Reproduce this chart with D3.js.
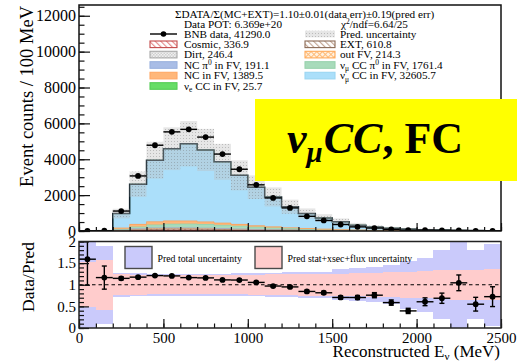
<!DOCTYPE html>
<html>
<head>
<meta charset="utf-8">
<script src="https://cdn.jsdelivr.net/npm/d3@7"></script>
<style>
  body { margin: 0; background: #fff; }
  svg { display: block; }
</style>
</head>
<body>
<svg id="chart" width="518" height="364"></svg>
<script>
// ---- binning: 100 MeV bins of reconstructed neutrino energy ----
const binLow = d3.range(0, 2500, 100);
const binWidth = 100;

// ---- predicted event counts per bin, by category ----
const cosmic    = [0.3,1,12,24,36,40,40,37,32,25.2,20,16,13,10,8,6,4.5,3.5,2.6,1.9,1.4,1,0.7,0.5,0.3];
const ext       = [0.5,2,22,44,62,68,68,63,55,48.1,38,32,26,20,16,12,9,7,5.5,4,3,2.2,1.6,1.1,0.8];
const dirt      = [0.2,0.8,12,24,32,32,30,25.7,20,16,13,10,8,6,4.5,3.5,2.6,1.9,1.4,1,0.7,0.5,0.3,0.2,0.1];
const outFV     = [0.2,1,15,27,30.1,28,25,21,17,13,10,7.5,5.5,4,3,2.2,1.6,1.1,0.8,0.5,0.3,0.2,0.1,0.1,0.1];
const ncPi0     = [0.1,0.5,10,20,25,25.3,22,19,16,13,10,8,6,4.5,3.5,2.5,1.8,1.3,0.9,0.6,0.4,0.3,0.2,0.1,0.1];
const numuCCpi0 = [0.3,1,30,95,160,195,210.7,200,180,155,130,105,82,62,46,34,24,17,12,8,5.5,3.8,2.5,1.6,1];
const ncFV      = [0.8,3,65,135,174,176,164,144,122.4,98,78,60,45,34,26,19,14,10,7,5,3.5,2.4,1.6,1.1,0.7];
const numuCC    = [2.0,7.0,803.0,2241.1,3425.5,4022.7,4304.0,4007.5,3412.0,2734.3,2141.0,1658.1,1167.3,826.9,613.3,433.7,267.7,174.8,127.3,87.2,58.9,38.6,24.3,16.9,10.6];
const nueCC     = [0,0,0.1,0.4,0.8,1.2,1.5,1.8,2,2.3,2.4,2,1.9,1.7,1.5,1.3,1.1,0.9,0.7,0.6,0.5,0.4,0.3,0.2,0.1];

// ---- observed BNB data counts per bin ----
const bnbData = [7,19,1112,3070,4782,5527,5667,5236,4289,3443,2574,1842,1287,819,588,363,230,165,93,43,45,34,33,12,10];

// ---- relative prediction uncertainties per bin ----
const relErrTotal      = [1.2,0.9,0.28,0.27,0.26,0.26,0.26,0.26,0.26,0.27,0.27,0.28,0.29,0.3,0.3,0.36,0.38,0.4,0.45,0.55,0.62,0.8,1.0,0.8,0.95];
const relErrStatXsFlux = [0.52,0.58,0.24,0.23,0.22,0.22,0.22,0.22,0.22,0.22,0.23,0.24,0.24,0.25,0.25,0.26,0.27,0.28,0.29,0.3,0.31,0.33,0.35,0.35,0.36];

// ---- axis ticks ----
const yTopMajor = d3.range(0, 12001, 2000);
const yTopMinor = d3.range(0, 12600, 500);
const xMajor = d3.range(0, 2501, 500);
const xMinor = d3.range(0, 2501, 100);
const yRatMajor = [0, 0.5, 1, 1.5, 2];
const yRatMinor = d3.range(0, 2.001, 0.1);

const SERIF = '"Liberation Serif", "Times New Roman", serif';

const svg = d3.select('#chart').attr('font-family', SERIF);
const defs = svg.append('defs');

// ---- fill patterns ----
function linePattern(id, color, angle, gap, sw, bg) {
  const p = defs.append('pattern').attr('id', id).attr('patternUnits', 'userSpaceOnUse')
    .attr('width', gap).attr('height', gap).attr('patternTransform', `rotate(${angle})`);
  if (bg) p.append('rect').attr('width', gap).attr('height', gap).attr('fill', bg);
  p.append('line').attr('x1', 0.5).attr('y1', 0).attr('x2', 0.5).attr('y2', gap)
    .attr('stroke', color).attr('stroke-width', sw);
}
function dotPattern(id, bg, dot, size) {
  const p = defs.append('pattern').attr('id', id).attr('patternUnits', 'userSpaceOnUse')
    .attr('width', size * 2).attr('height', size * 2);
  p.append('rect').attr('width', size * 2).attr('height', size * 2).attr('fill', bg);
  p.append('rect').attr('width', size).attr('height', size).attr('fill', dot);
  p.append('rect').attr('x', size).attr('y', size).attr('width', size).attr('height', size).attr('fill', dot);
}
linePattern('hatchCosmic', '#e58a8a', -45, 4, 1.3, '#fff');
linePattern('hatchExt', '#c2a593', -45, 4, 1.3, '#fff');
{
  const p = defs.append('pattern').attr('id', 'xhatchOut').attr('patternUnits', 'userSpaceOnUse')
    .attr('width', 4).attr('height', 4).attr('patternTransform', 'rotate(45)');
  p.append('rect').attr('width', 4).attr('height', 4).attr('fill', '#fff1e0');
  p.append('line').attr('x1', 0).attr('y1', 0.5).attr('x2', 4).attr('y2', 0.5).attr('stroke', '#ffbb77').attr('stroke-width', 1);
  p.append('line').attr('x1', 0.5).attr('y1', 0).attr('x2', 0.5).attr('y2', 4).attr('stroke', '#ffbb77').attr('stroke-width', 1);
}
dotPattern('dotsDirt', '#f0f0f0', '#cfcfcf', 1.5);
{
  // sparse dotted fill for the prediction uncertainty
  const p = defs.append('pattern').attr('id', 'dotsUnc').attr('patternUnits', 'userSpaceOnUse')
    .attr('width', 3).attr('height', 3);
  p.append('rect').attr('width', 3).attr('height', 3).attr('fill', 'rgba(190,190,190,0.38)');
  p.append('rect').attr('width', 1).attr('height', 1).attr('fill', 'rgba(105,105,105,0.35)');
}

// ---- scales ----
const x = d3.scaleLinear().domain([0, 2500]).range([79, 501]);
const yTop = d3.scaleLinear().domain([0, 12600]).range([231, 5]);
const yRat = d3.scaleLinear().domain([0, 2]).range([328, 241.5]);

// ---- stacked prediction ----
const layers = [
  { key: 'cosmic',    values: cosmic,    fill: 'url(#hatchCosmic)', stroke: '#d23c3c', sw: 1.3 },
  { key: 'ext',       values: ext,       fill: 'url(#hatchExt)',    stroke: '#8b5e45', sw: 0.8 },
  { key: 'dirt',      values: dirt,      fill: 'url(#dotsDirt)',    stroke: '#a0a0a0', sw: 0.6 },
  { key: 'outFV',     values: outFV,     fill: 'url(#xhatchOut)',   stroke: '#ffa54f', sw: 0.6 },
  { key: 'ncPi0',     values: ncPi0,     fill: '#a9bde6',           stroke: '#94aedc', sw: 0.6 },
  { key: 'numuCCpi0', values: numuCCpi0, fill: '#a8dbbb',           stroke: '#8fcfa8', sw: 0.6 },
  { key: 'ncFV',      values: ncFV,      fill: '#ffb77a',           stroke: '#f7a25e', sw: 0.8 },
  { key: 'numuCC',    values: numuCC,    fill: '#abdffa',           stroke: '#6fb6d8', sw: 0.6 },
  { key: 'nueCC',     values: nueCC,     fill: '#66dd66',           stroke: '#44bb44', sw: 0.6 }
];
const rows = binLow.map((b, i) => Object.fromEntries(layers.map(l => [l.key, l.values[i]])));
const series = d3.stack().keys(layers.map(l => l.key))(rows);
const pred = binLow.map((b, i) => d3.sum(layers, l => l.values[i]));

defs.append('clipPath').attr('id', 'clipTop').append('rect')
  .attr('x', x(0)).attr('y', yTop.range()[1]).attr('width', x(2500) - x(0)).attr('height', yTop.range()[0] - yTop.range()[1]);
defs.append('clipPath').attr('id', 'clipRat').append('rect')
  .attr('x', x(0)).attr('y', yRat(2)).attr('width', x(2500) - x(0)).attr('height', yRat(0) - yRat(2));

const gTop = svg.append('g').attr('clip-path', 'url(#clipTop)');
const step = d3.line().x(p => x(p[0])).y(p => yTop(p[1])).curve(d3.curveStepAfter);

series.forEach((s, li) => {
  gTop.append('g').attr('shape-rendering', 'crispEdges').selectAll('rect').data(s).join('rect')
    .attr('x', (d, i) => x(binLow[i]))
    .attr('width', (d, i) => x(binLow[i] + binWidth) - x(binLow[i]))
    .attr('y', d => yTop(d[1]))
    .attr('height', d => Math.max(0, yTop(d[0]) - yTop(d[1])))
    .attr('fill', layers[li].fill);
});
series.forEach((s, li) => {
  const pts = binLow.map((b, i) => [b, s[i][1]]).concat([[2500, s[s.length - 1][1]]]);
  gTop.append('path').attr('d', step(pts)).attr('fill', 'none')
    .attr('stroke', layers[li].stroke).attr('stroke-width', layers[li].sw);
});
// total prediction outline
gTop.append('path')
  .attr('d', step(binLow.map((b, i) => [b, pred[i]]).concat([[2500, pred[pred.length - 1]]])))
  .attr('fill', 'none').attr('stroke', '#10202a').attr('stroke-width', 1.5);

// prediction uncertainty band
gTop.append('g').selectAll('rect').data(binLow).join('rect')
  .attr('x', (b) => x(b))
  .attr('width', (b) => x(b + binWidth) - x(b))
  .attr('y', (b, i) => yTop(pred[i] * (1 + relErrTotal[i])))
  .attr('height', (b, i) => yTop(Math.max(0, pred[i] * (1 - relErrTotal[i]))) - yTop(pred[i] * (1 + relErrTotal[i])))
  .attr('fill', 'url(#dotsUnc)');

// data points
const gData = gTop.append('g').attr('stroke', '#000').attr('stroke-width', 1.4);
binLow.forEach((b, i) => {
  const cx = x(b + binWidth / 2), cy = yTop(bnbData[i]), e = Math.sqrt(bnbData[i]);
  gData.append('line').attr('x1', x(b)).attr('x2', x(b + binWidth)).attr('y1', cy).attr('y2', cy);
  gData.append('line').attr('x1', cx).attr('x2', cx).attr('y1', yTop(bnbData[i] + e)).attr('y2', yTop(bnbData[i] - e));
  gData.append('circle').attr('cx', cx).attr('cy', cy).attr('r', 2.9).attr('fill', '#000').attr('stroke', 'none');
});

// ---- axes helpers ----
function styleAxis(g, size) {
  g.select('.domain').remove();
  g.attr('font-family', SERIF).attr('font-size', size);
  g.selectAll('line').attr('stroke', '#111').attr('stroke-width', 1.2);
  g.selectAll('text').attr('fill', '#000');
}

// top panel axes
svg.append('g').attr('transform', `translate(${x(0)},0)`)
  .call(d3.axisLeft(yTop).tickValues(yTopMinor).tickSize(-5.5).tickFormat(''))
  .call(g => styleAxis(g, 16));
svg.append('g').attr('transform', `translate(${x(0)},0)`)
  .call(d3.axisLeft(yTop).tickValues(yTopMajor).tickSize(-11).tickPadding(3).tickFormat(d3.format('d')))
  .call(g => styleAxis(g, 16));
svg.append('g').attr('transform', `translate(0,${yTop(0)})`)
  .call(d3.axisBottom(x).tickValues(xMinor).tickSize(-4).tickFormat(''))
  .call(g => styleAxis(g, 15));
svg.append('g').attr('transform', `translate(0,${yTop(0)})`)
  .call(d3.axisBottom(x).tickValues(xMajor).tickSize(-8).tickFormat(''))
  .call(g => styleAxis(g, 15));
svg.append('rect').attr('x', x(0)).attr('y', yTop.range()[1])
  .attr('width', x(2500) - x(0)).attr('height', yTop(0) - yTop.range()[1])
  .attr('fill', 'none').attr('stroke', '#111').attr('stroke-width', 1.5);

svg.append('text').attr('transform', `translate(33,6) rotate(-90)`)
  .attr('text-anchor', 'end').attr('font-size', 18.5).text('Event counts / 100 MeV');

// ---- legend (top panel) ----
const gLeg = svg.append('g').attr('font-size', 11.2);
gLeg.append('text').attr('x', 175).attr('y', 18)
  .text('\u03A3DATA/\u03A3(MC+EXT)=1.10\u00B10.01(data err)\u00B10.19(pred err)');
gLeg.append('text').attr('x', 184).attr('y', 28).text('Data POT: 6.369e+20');
{
  const t = gLeg.append('text').attr('x', 341).attr('y', 28);
  t.append('tspan').text('\u03C7');
  t.append('tspan').attr('font-size', 7.5).attr('dy', -4).text('2');
  t.append('tspan').attr('dy', 4).text('/ndf=6.64/25');
}
const legendLeft = [
  { y: 34,   kind: 'data', parts: [['BNB data, 41290.0']] },
  { y: 44.3, fill: 'url(#hatchCosmic)', stroke: '#c44a4a', parts: [['Cosmic, 336.9']] },
  { y: 54.6, fill: 'url(#dotsDirt)', stroke: '#a8a8a8', parts: [['Dirt, 246.4']] },
  { y: 65,   fill: '#a9bde6', stroke: '#9bb2de', parts: [['NC \u03C0'], ['0', 'sup'], [' in FV,  191.1']] },
  { y: 75.6, fill: '#ffb77a', stroke: '#ffa866', parts: [['NC in FV, 1389.5']] },
  { y: 86,   fill: '#66dd66', stroke: '#55cc55', parts: [['\u03BD'], ['e', 'sub'], [' CC in FV, 25.7']] }
];
const legendRight = [
  { y: 34,   fill: 'url(#dotsUnc)', stroke: 'none', parts: [['Pred. uncertainty']] },
  { y: 44.3, fill: 'url(#hatchExt)', stroke: '#8b6a55', parts: [['EXT, 610.8']] },
  { y: 54.6, fill: 'url(#xhatchOut)', stroke: '#ffaa5a', parts: [['out FV, 214.3']] },
  { y: 65,   fill: '#a8dbbb', stroke: '#99d2ae', parts: [['\u03BD'], ['\u03BC', 'sub'], [' CC \u03C0'], ['0', 'sup'], [' in FV, 1761.4']] },
  { y: 75.6, fill: '#abdffa', stroke: '#9cd6f2', parts: [['\u03BD'], ['\u03BC', 'sub'], [' CC in FV, 32605.7']] }
];
function drawLegendEntry(e, x0, x1, tx) {
  if (e.kind === 'data') {
    gLeg.append('line').attr('x1', x0).attr('x2', x1).attr('y1', e.y).attr('y2', e.y)
      .attr('stroke', '#000').attr('stroke-width', 1.4);
    gLeg.append('circle').attr('cx', (x0 + x1) / 2).attr('cy', e.y).attr('r', 2.8).attr('fill', '#000');
  } else {
    gLeg.append('rect').attr('x', x0).attr('y', e.y - 3.3).attr('width', x1 - x0).attr('height', 6.6)
      .attr('fill', e.fill).attr('stroke', e.stroke).attr('stroke-width', 1.1);
  }
  const t = gLeg.append('text').attr('x', tx).attr('y', e.y + 3.8);
  let shift = 0;
  e.parts.forEach(([s, mode]) => {
    const target = mode === 'sub' ? 2.5 : mode === 'sup' ? -4 : 0;
    const sp = t.append('tspan').attr('dy', target - shift).text(s);
    if (mode) sp.attr('font-size', 7.5);
    shift = target;
  });
}
legendLeft.forEach(e => drawLegendEntry(e, 150, 177, 184));
legendRight.forEach(e => drawLegendEntry(e, 305, 335, 340));

// ---- ratio panel ----
const ratio = binLow.map((b, i) => bnbData[i] / pred[i]);
const ratioErr = binLow.map((b, i) => Math.sqrt(bnbData[i]) / pred[i]);

const gRat = svg.append('g').attr('clip-path', 'url(#clipRat)');
gRat.append('g').attr('shape-rendering', 'crispEdges').selectAll('rect').data(binLow).join('rect')
  .attr('x', b => x(b)).attr('width', b => x(b + binWidth) - x(b))
  .attr('y', (b, i) => yRat(1 + relErrTotal[i]))
  .attr('height', (b, i) => yRat(1 - relErrTotal[i]) - yRat(1 + relErrTotal[i]))
  .attr('fill', '#cacafb');
gRat.append('g').attr('shape-rendering', 'crispEdges').selectAll('rect').data(binLow).join('rect')
  .attr('x', b => x(b)).attr('width', b => x(b + binWidth) - x(b))
  .attr('y', (b, i) => yRat(1 + relErrStatXsFlux[i]))
  .attr('height', (b, i) => yRat(1 - relErrStatXsFlux[i]) - yRat(1 + relErrStatXsFlux[i]))
  .attr('fill', '#ffcccc');
gRat.append('line').attr('x1', x(0)).attr('x2', x(2500)).attr('y1', yRat(1)).attr('y2', yRat(1))
  .attr('stroke', '#000').attr('stroke-width', 1.2).attr('stroke-dasharray', '3.5,3');

// ratio legend
const ratLegend = [
  { x0: 125, fill: '#cacafb', label: 'Pred total uncertainty' },
  { x0: 255, fill: '#ffcccc', label: 'Pred stat+xsec+flux uncertainty' }
];
ratLegend.forEach(l => {
  svg.append('rect').attr('x', l.x0).attr('y', 246.5).attr('width', 27).attr('height', 22)
    .attr('fill', l.fill).attr('stroke', '#4a4a4a').attr('stroke-width', 1.4);
  svg.append('text').attr('x', l.x0 + 32.5).attr('y', 261.5).attr('font-size', 9.8).text(l.label);
});

const gRd = gRat.append('g').attr('stroke', '#000').attr('stroke-width', 1.4);
binLow.forEach((b, i) => {
  const cx = x(b + binWidth / 2), cy = yRat(ratio[i]);
  const yHi = yRat(ratio[i] + ratioErr[i]), yLo = yRat(ratio[i] - ratioErr[i]);
  gRd.append('line').attr('x1', x(b)).attr('x2', x(b + binWidth)).attr('y1', cy).attr('y2', cy);
  gRd.append('line').attr('x1', cx).attr('x2', cx).attr('y1', yHi).attr('y2', yLo);
  gRd.append('line').attr('x1', cx - 2.5).attr('x2', cx + 2.5).attr('y1', yHi).attr('y2', yHi);
  gRd.append('line').attr('x1', cx - 2.5).attr('x2', cx + 2.5).attr('y1', yLo).attr('y2', yLo);
  gRd.append('circle').attr('cx', cx).attr('cy', cy).attr('r', 2.9).attr('fill', '#000').attr('stroke', 'none');
});

svg.append('g').attr('transform', `translate(${x(0)},0)`)
  .call(d3.axisLeft(yRat).tickValues(yRatMinor).tickSize(-5).tickFormat(''))
  .call(g => styleAxis(g, 15));
svg.append('g').attr('transform', `translate(${x(0)},0)`)
  .call(d3.axisLeft(yRat).tickValues(yRatMajor).tickSize(-10).tickPadding(3).tickFormat(d3.format('')))
  .call(g => styleAxis(g, 15));
svg.append('g').attr('transform', `translate(0,${yRat(0)})`)
  .call(d3.axisBottom(x).tickValues(xMinor).tickSize(-4.5).tickFormat(''))
  .call(g => styleAxis(g, 15));
svg.append('g').attr('transform', `translate(0,${yRat(0)})`)
  .call(d3.axisBottom(x).tickValues(xMajor).tickSize(-9).tickPadding(4.7).tickFormat(d3.format('d')))
  .call(g => styleAxis(g, 15));
svg.append('rect').attr('x', x(0)).attr('y', yRat(2))
  .attr('width', x(2500) - x(0)).attr('height', yRat(0) - yRat(2))
  .attr('fill', 'none').attr('stroke', '#222').attr('stroke-width', 1.5);

svg.append('text').attr('transform', `translate(34,242) rotate(-90)`)
  .attr('text-anchor', 'end').attr('font-size', 17.5).text('Data/Pred');
{
  const t = svg.append('text').attr('x', 500).attr('y', 357).attr('text-anchor', 'end').attr('font-size', 17);
  t.append('tspan').text('Reconstructed E');
  t.append('tspan').attr('font-size', 11).attr('dy', 3).text('\u03BD');
  t.append('tspan').attr('dy', -3).text(' (MeV)');
}

// ---- selection tag ----
svg.append('rect').attr('x', 255).attr('y', 99).attr('width', 262).attr('height', 82).attr('fill', '#ffff00');
{
  const t = svg.append('text').attr('x', 287).attr('y', 152.5)
    .attr('font-family', SERIF).attr('font-weight', 'bold').attr('font-size', 44).attr('fill', '#000');
  t.append('tspan').attr('font-style', 'italic').text('\u03BD');
  t.append('tspan').attr('font-style', 'italic').attr('font-size', 29).attr('dy', 9).text('\u03BC');
  t.append('tspan').attr('font-style', 'italic').attr('dy', -9).attr('dx', 1).text('CC');
  t.append('tspan').text(', FC');
}
</script>
</body>
</html>
